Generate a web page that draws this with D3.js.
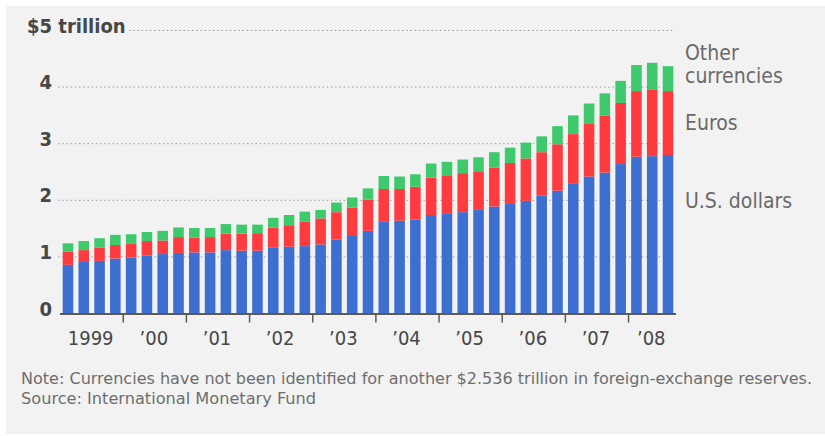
<!DOCTYPE html>
<html>
<head>
<meta charset="utf-8">
<script src="https://cdn.jsdelivr.net/npm/d3@7"></script>
<style>
  body { margin: 0; background: #fff; }
  svg { display: block; }
  text { font-family: "DejaVu Sans Condensed", "DejaVu Sans", sans-serif; }
</style>
</head>
<body>
<div id="chart"></div>
<script>
// quarterly reserves, $ trillion (1999 Q1 .. 2008 Q3)
const years = ['1999', '2000', '2001', '2002', '2003', '2004', '2005', '2006', '2007', '2008'];
const yearLabels = ['1999', '’00', '’01', '’02', '’03', '’04', '’05', '’06', '’07', '’08'];
const quartersPerYear = [4, 4, 4, 4, 4, 4, 4, 4, 4, 3];

const usDollars = [0.86, 0.91, 0.93, 0.97, 0.99, 1.02, 1.05, 1.07, 1.08, 1.08, 1.12, 1.11,
                   1.11, 1.16, 1.18, 1.19, 1.22, 1.31, 1.37, 1.46, 1.63, 1.64, 1.66, 1.74,
                   1.76, 1.79, 1.83, 1.89, 1.95, 1.99, 2.08, 2.17, 2.29, 2.42, 2.49, 2.64,
                   2.77, 2.78, 2.80];
const euros = [0.23, 0.21, 0.23, 0.24, 0.24, 0.26, 0.24, 0.28, 0.26, 0.27, 0.29, 0.30,
               0.31, 0.36, 0.38, 0.43, 0.46, 0.48, 0.50, 0.55, 0.57, 0.56, 0.58, 0.66,
               0.67, 0.69, 0.67, 0.69, 0.71, 0.75, 0.77, 0.82, 0.88, 0.94, 1.01, 1.08,
               1.16, 1.18, 1.13];
const otherCurrencies = [0.15, 0.16, 0.17, 0.18, 0.17, 0.16, 0.17, 0.17, 0.17, 0.16, 0.17, 0.16,
                         0.15, 0.17, 0.18, 0.18, 0.15, 0.17, 0.18, 0.20, 0.23, 0.22, 0.22, 0.25,
                         0.25, 0.24, 0.26, 0.27, 0.27, 0.28, 0.28, 0.32, 0.33, 0.35, 0.39, 0.39,
                         0.46, 0.47, 0.44];

const yTicks = [0, 1, 2, 3, 4, 5];
const seriesKeys = ['usd', 'eur', 'other'];
const seriesLabels = {usd: ['U.S. dollars'], eur: ['Euros'], other: ['Other', 'currencies']};
const colors = {usd: '#3d6fd0', eur: '#fe3c40', other: '#3ec96c'};

const note = 'Note: Currencies have not been identified for another $2.536 trillion in foreign-exchange reserves.';
const source = 'Source: International Monetary Fund';

// build quarter rows
let quarters = [];
years.forEach((y, i) => {
    for (let q = 1; q <= quartersPerYear[i]; q++) {
        quarters.push({id: y + 'Q' + q, year: y});
    }
});
quarters.forEach((d, i) => {
    d.usd = usDollars[i];
    d.eur = euros[i];
    d.other = otherCurrencies[i];
});

const W = 825, H = 436;
const svg = d3.select('#chart').append('svg')
    .attr('width', W)
    .attr('height', H);

// panel background
svg.append('rect')
    .attr('x', 6).attr('y', 6)
    .attr('width', W - 6).attr('height', 428)
    .attr('fill', '#f2f2f2');

const xScale = d3.scaleBand()
    .domain(quarters.map(d => d.id))
    .range([60, 676])
    .paddingInner(0.33)
    .paddingOuter(0.17);

const yScale = d3.scaleLinear()
    .domain([0, 5])
    .range([313.5, 30.5]);

// dotted gridlines
svg.append('g').selectAll('line')
    .data(yTicks.filter(t => t > 0))
    .enter().append('line')
    .attr('x1', d => d === 5 ? 129 : 58)
    .attr('x2', 674)
    .attr('y1', d => yScale(d))
    .attr('y2', d => yScale(d))
    .attr('stroke', '#9a9a9a')
    .attr('stroke-width', 1)
    .attr('stroke-dasharray', '1.5,2.7');

// y labels
svg.append('g').selectAll('text')
    .data(yTicks)
    .enter().append('text')
    .attr('x', d => d === 5 ? 27 : 52)
    .attr('y', d => yScale(d) + 2)
    .attr('text-anchor', d => d === 5 ? 'start' : 'end')
    .attr('font-size', 20)
    .attr('font-weight', 'bold')
    .attr('fill', '#474747')
    .text(d => d === 5 ? '$5 trillion' : d);

// stacked bars
const stack = d3.stack().keys(seriesKeys);
const layers = stack(quarters);

svg.append('g').selectAll('g')
    .data(layers)
    .enter().append('g')
    .attr('fill', d => colors[d.key])
    .selectAll('rect')
    .data(d => d)
    .enter().append('rect')
    .attr('x', d => xScale(d.data.id))
    .attr('width', xScale.bandwidth())
    .attr('y', d => yScale(d[1]))
    .attr('height', d => yScale(d[0]) - yScale(d[1]));

// x axis baseline
svg.append('line')
    .attr('x1', 60).attr('x2', 676)
    .attr('y1', yScale(0) + 0.5).attr('y2', yScale(0) + 0.5)
    .attr('stroke', '#5a5a5a')
    .attr('stroke-width', 1.8);

// year boundary ticks
const gap = xScale.step() - xScale.bandwidth();
svg.append('g').selectAll('line')
    .data(years.slice(1))
    .enter().append('line')
    .attr('x1', y => xScale(y + 'Q1') - gap / 2)
    .attr('x2', y => xScale(y + 'Q1') - gap / 2)
    .attr('y1', yScale(0) + 1)
    .attr('y2', yScale(0) + 9)
    .attr('stroke', '#5a5a5a')
    .attr('stroke-width', 1.5);

// year labels centred under their quarters
svg.append('g').selectAll('text')
    .data(years)
    .enter().append('text')
    .attr('x', (y, i) => {
        const first = xScale(y + 'Q1');
        const last = xScale(y + 'Q' + quartersPerYear[i]) + xScale.bandwidth();
        return (first + last) / 2 - 1;
    })
    .attr('y', 345)
    .attr('text-anchor', 'middle')
    .attr('font-size', 20)
    .attr('fill', '#474747')
    .text((y, i) => yearLabels[i]);

// series labels on the right
const labelBaselines = {other: 60, eur: 130, usd: 208};
seriesKeys.forEach(k => {
    const t = svg.append('text')
        .attr('x', 685)
        .attr('y', labelBaselines[k])
        .attr('font-size', 21)
        .attr('fill', '#6a6a6a');
    seriesLabels[k].forEach((line, i) => {
        t.append('tspan')
            .attr('x', 685)
            .attr('dy', i === 0 ? 0 : 23)
            .text(line);
    });
});

// footnote
svg.append('text')
    .attr('x', 21).attr('y', 384)
    .attr('font-size', 16)
    .attr('fill', '#6e6e6e')
    .attr('textLength', 791)
    .attr('lengthAdjust', 'spacingAndGlyphs')
    .text(note);

svg.append('text')
    .attr('x', 21).attr('y', 404)
    .attr('font-size', 16)
    .attr('fill', '#6e6e6e')
    .attr('textLength', 295)
    .attr('lengthAdjust', 'spacingAndGlyphs')
    .text(source);
</script>
</body>
</html>
